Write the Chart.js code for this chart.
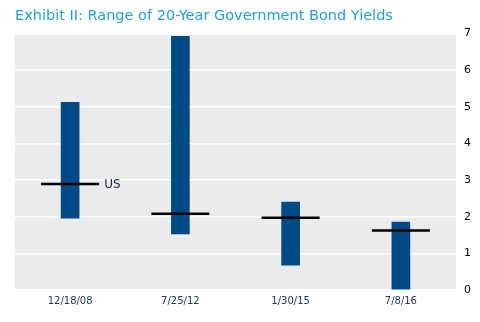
<!DOCTYPE html>
<html>
<head>
<meta charset="utf-8">
<script src="https://cdn.jsdelivr.net/npm/chart.js@4"></script>
<style>
  body { margin: 0; background: #fff; }
  #wrap { width: 480px; height: 322px; position: relative; }
</style>
</head>
<body>
<div id="wrap"><canvas id="chart"></canvas></div>
<script>
const dates = ["12/18/08", "7/25/12", "1/30/15", "7/8/16"];
const lows = [1.96, 1.53, 0.68, 0.02];
const highs = [5.12, 6.92, 2.40, 1.85];
const usYields = [2.89, 2.08, 1.97, 1.62];
const usLabel = "US";

const ranges = dates.map((d, i) => [lows[i], highs[i]]);

const plotBackground = {
  id: "plotBackground",
  beforeDraw(chart) {
    const { ctx, chartArea } = chart;
    ctx.save();
    ctx.fillStyle = "#ebebeb";
    ctx.fillRect(chartArea.left, chartArea.top, chartArea.width, chartArea.height);
    ctx.restore();
  },
};

const usText = {
  id: "usText",
  afterDatasetsDraw(chart) {
    const pt = chart.getDatasetMeta(1).data[0];
    const ctx = chart.ctx;
    ctx.save();
    ctx.font = "12px 'DejaVu Sans'";
    ctx.fillStyle = "#1a2a4a";
    ctx.textBaseline = "middle";
    ctx.fillText(usLabel, pt.x + 34, pt.y + 1);
    ctx.restore();
  },
};

new Chart(document.getElementById("chart"), {
  type: "bar",
  data: {
    labels: dates,
    datasets: [
      {
        label: "Range",
        data: ranges,
        backgroundColor: "#004b87",
        barThickness: 18,
        borderSkipped: false,
        order: 2,
      },
      {
        type: "line",
        label: usLabel,
        data: usYields,
        showLine: false,
        clip: false,
        pointStyle: "line",
        pointRadius: 29,
        pointHoverRadius: 29,
        pointBorderWidth: 2.5,
        borderColor: "#000",
        backgroundColor: "#000",
        order: 1,
      },
    ],
  },
  options: {
    responsive: true,
    maintainAspectRatio: false,
    animation: false,
    layout: { autoPadding: false, padding: { left: 15, right: 0, top: 0, bottom: 0 } },
    plugins: {
      legend: { display: false },
      tooltip: { enabled: false },
      title: {
        display: true,
        text: "Exhibit II: Range of 20-Year Government Bond Yields",
        align: "start",
        color: "#1ba1e2",
        font: { family: "'DejaVu Sans'", size: 14.5, weight: "normal" },
        padding: { top: 8, bottom: 8 },
      },
    },
    scales: {
      x: {
        grid: { display: false, drawTicks: false },
        border: { display: false },
        ticks: {
          color: "#1f3864",
          font: { family: "'DejaVu Sans'", size: 10 },
          padding: 5,
        },
        afterFit(scale) {
          scale.height = 32;
        },
      },
      y: {
        position: "right",
        min: 0,
        max: 7,
        grid: { color: "#ffffff", lineWidth: 1.5, drawTicks: false },
        border: { display: false },
        ticks: {
          stepSize: 1,
          color: "#000",
          font: { family: "'DejaVu Sans'", size: 11 },
          padding: 8,
        },
        afterFit(scale) {
          scale.width = 24;
        },
      },
    },
  },
  plugins: [plotBackground, usText],
});
</script>
</body>
</html>
